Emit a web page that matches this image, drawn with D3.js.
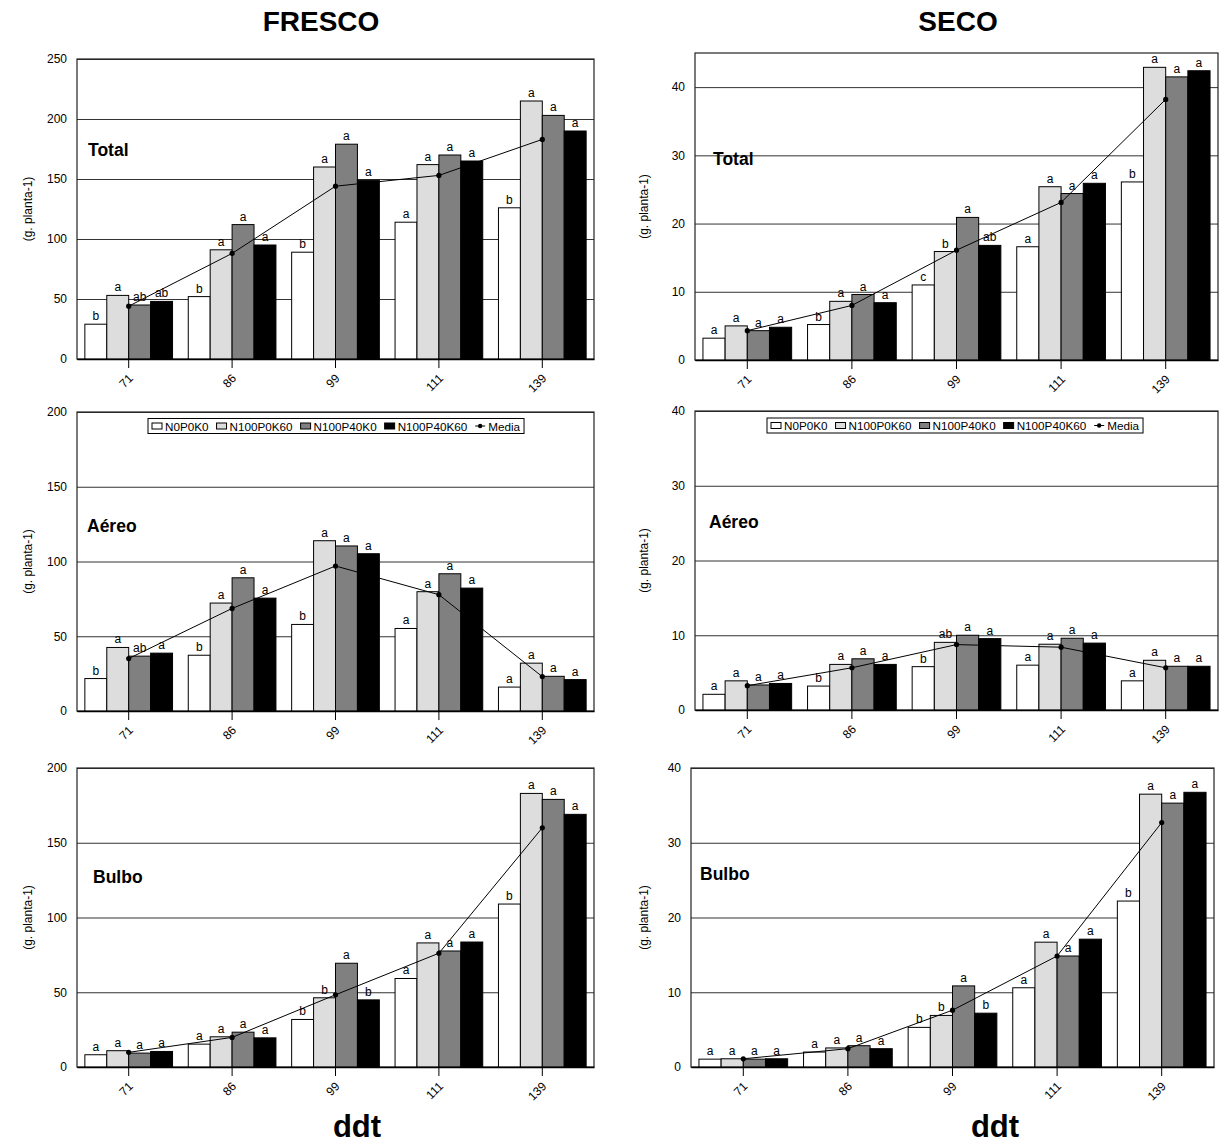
<!DOCTYPE html>
<html><head><meta charset="utf-8">
<script src="https://cdn.jsdelivr.net/npm/d3@7"></script>
<style>
body{margin:0;background:#fff}
svg{display:block}
text{font-family:Arial,"Liberation Sans",Helvetica,sans-serif;fill:#000}
</style>
</head><body>
<svg id="chart" width="1223" height="1147"></svg>
<script>
// ---------- DATA ----------
const categories = ["71", "86", "99", "111", "139"];
const treatments = ["N0P0K0", "N100P0K60", "N100P40K0", "N100P40K60"];
const meanName = "Media";
const columnTitles = ["FRESCO", "SECO"];
const xTitle = "ddt";
const yTitle = "(g. planta-1)";

const frescoTicks250 = [0, 50, 100, 150, 200, 250];
const frescoTicks200 = [0, 50, 100, 150, 200];
const secoTicks = [0, 10, 20, 30, 40];

// FRESCO - Total
const frescoTotal_N0P0K0     = [29, 52, 89, 114, 126];
const frescoTotal_N100P0K60  = [53, 91, 160, 162, 215];
const frescoTotal_N100P40K0  = [45, 112, 179, 170, 203];
const frescoTotal_N100P40K60 = [48, 95, 149, 165, 190];
const frescoTotal_Media      = [44, 88, 144, 153, 183];
const frescoTotal_letters = [["b","a","ab","ab"],["b","a","a","a"],["b","a","a","a"],["a","a","a","a"],["b","a","a","a"]];

// SECO - Total
const secoTotal_N0P0K0     = [3.2, 5.2, 11.0, 16.6, 26.1];
const secoTotal_N100P0K60  = [5.0, 8.6, 15.9, 25.4, 42.9];
const secoTotal_N100P40K0  = [4.3, 9.6, 20.9, 24.4, 41.5];
const secoTotal_N100P40K60 = [4.8, 8.4, 16.8, 25.9, 42.4];
const secoTotal_Media      = [4.3, 8.0, 16.1, 23.1, 38.2];
const secoTotal_letters = [["a","a","a","a"],["b","a","a","a"],["c","b","a","ab"],["a","a","a","a"],["b","a","a","a"]];

// FRESCO - Aéreo
const frescoAereo_N0P0K0     = [21.7, 37.3, 57.9, 55.2, 16];
const frescoAereo_N100P0K60  = [42.5, 72.2, 113.9, 79.8, 32];
const frescoAereo_N100P40K0  = [36.7, 89.1, 110.4, 91.8, 23.2];
const frescoAereo_N100P40K60 = [38.7, 75.5, 105.2, 82.2, 21];
const frescoAereo_Media      = [35.1, 68.6, 97.0, 77.8, 23];
const frescoAereo_letters = [["b","a","ab","a"],["b","a","a","a"],["b","a","a","a"],["a","a","a","a"],["a","a","a","a"]];

// SECO - Aéreo
const secoAereo_N0P0K0     = [2.1, 3.2, 5.8, 6.0, 3.9];
const secoAereo_N100P0K60  = [3.9, 6.1, 9.05, 8.8, 6.65];
const secoAereo_N100P40K0  = [3.35, 6.85, 10.0, 9.6, 5.85];
const secoAereo_N100P40K60 = [3.55, 6.1, 9.55, 8.95, 5.85];
const secoAereo_Media      = [3.25, 5.65, 8.75, 8.4, 5.65];
const secoAereo_letters = [["a","a","a","a"],["b","a","a","a"],["b","ab","a","a"],["a","a","a","a"],["a","a","a","a"]];

// FRESCO - Bulbo
const frescoBulbo_N0P0K0     = [8.2, 15.3, 31.8, 59.2, 109];
const frescoBulbo_N100P0K60  = [10.9, 20.2, 46.3, 83.0, 183];
const frescoBulbo_N100P40K0  = [9.3, 23.3, 69.4, 77.6, 179];
const frescoBulbo_N100P40K60 = [10.4, 19.5, 44.9, 83.6, 169];
const frescoBulbo_Media      = [9.8, 19.8, 48.3, 76.1, 160];
const frescoBulbo_letters = [["a","a","a","a"],["a","a","a","a"],["b","b","a","b"],["a","a","a","a"],["b","a","a","a"]];

// SECO - Bulbo
const secoBulbo_N0P0K0     = [1.05, 2.0, 5.3, 10.6, 22.2];
const secoBulbo_N100P0K60  = [1.1, 2.55, 6.9, 16.7, 36.5];
const secoBulbo_N100P40K0  = [1.05, 2.85, 10.85, 14.85, 35.3];
const secoBulbo_N100P40K60 = [1.1, 2.45, 7.2, 17.1, 36.75];
const secoBulbo_Media      = [1.1, 2.45, 7.6, 14.85, 32.7];
const secoBulbo_letters = [["a","a","a","a"],["a","a","a","a"],["b","b","a","b"],["a","a","a","a"],["b","a","a","a"]];

const panelLabels = ["Total", "Aéreo", "Bulbo"];

// ---------- LAYOUT ----------
const fills = ["#ffffff", "#dddddd", "#808080", "#000000"];
const FONT = 'Arial,"Liberation Sans",Helvetica,sans-serif';

const panels = [
  {left:77, right:594, top:59, bottom:359, max:250, ticks:frescoTicks250, label:panelLabels[0], lx:88, ly:156, yt:32,
   series:[frescoTotal_N0P0K0, frescoTotal_N100P0K60, frescoTotal_N100P40K0, frescoTotal_N100P40K60], mean:frescoTotal_Media, letters:frescoTotal_letters},
  {left:695, right:1218, top:53, bottom:360, max:45, ticks:secoTicks, label:panelLabels[0], lx:713, ly:165, yt:648,
   series:[secoTotal_N0P0K0, secoTotal_N100P0K60, secoTotal_N100P40K0, secoTotal_N100P40K60], mean:secoTotal_Media, letters:secoTotal_letters},
  {left:77, right:594, top:412, bottom:711, max:200, ticks:frescoTicks200, label:panelLabels[1], lx:87, ly:532, yt:32,
   series:[frescoAereo_N0P0K0, frescoAereo_N100P0K60, frescoAereo_N100P40K0, frescoAereo_N100P40K60], mean:frescoAereo_Media, letters:frescoAereo_letters,
   legend:{x:148, y:418.5}},
  {left:695, right:1218, top:411, bottom:710, max:40, ticks:secoTicks, label:panelLabels[1], lx:709, ly:528, yt:648,
   series:[secoAereo_N0P0K0, secoAereo_N100P0K60, secoAereo_N100P40K0, secoAereo_N100P40K60], mean:secoAereo_Media, letters:secoAereo_letters,
   legend:{x:767, y:418}},
  {left:77, right:594, top:768, bottom:1067, max:200, ticks:frescoTicks200, label:panelLabels[2], lx:93, ly:883, yt:32,
   series:[frescoBulbo_N0P0K0, frescoBulbo_N100P0K60, frescoBulbo_N100P40K0, frescoBulbo_N100P40K60], mean:frescoBulbo_Media, letters:frescoBulbo_letters},
  {left:691, right:1214, top:768, bottom:1067, max:40, ticks:secoTicks, label:panelLabels[2], lx:700, ly:880, yt:648,
   series:[secoBulbo_N0P0K0, secoBulbo_N100P0K60, secoBulbo_N100P40K0, secoBulbo_N100P40K60], mean:secoBulbo_Media, letters:secoBulbo_letters}
];

const svg = d3.select("#chart");

panels.forEach(p => {
  const x = d3.scaleBand().domain(categories).range([p.left, p.right]).paddingInner(0).paddingOuter(0);
  const y = d3.scaleLinear().domain([0, p.max]).range([p.bottom, p.top]);
  const W = p.right - p.left;
  const g = svg.append("g");

  // gridlines
  g.append("g")
    .attr("transform", `translate(${p.left},0)`)
    .call(d3.axisLeft(y).tickValues(p.ticks).tickSize(-W).tickFormat(""))
    .call(s => s.select(".domain").remove())
    .call(s => s.selectAll("line").attr("stroke", "#333").attr("stroke-width", 1));

  // frame
  g.append("rect").attr("x", p.left).attr("y", p.top).attr("width", W).attr("height", p.bottom - p.top)
    .attr("fill", "none").attr("stroke", "#222").attr("stroke-width", 1.2);

  // y tick labels
  g.append("g")
    .attr("transform", `translate(${p.left},0)`)
    .call(d3.axisLeft(y).tickValues(p.ticks).tickSize(0).tickPadding(10).tickFormat(d3.format("d")))
    .call(s => s.select(".domain").remove())
    .call(s => s.selectAll("text").attr("font-size", 12).attr("font-family", FONT).attr("fill", "#000"));

  // y title
  g.append("text")
    .attr("transform", `translate(${p.yt},${(p.top + p.bottom) / 2}) rotate(-90)`)
    .attr("text-anchor", "middle").attr("font-size", 12).text(yTitle);

  // bars
  const bw = x.step() * 0.212;
  categories.forEach((c, ci) => {
    const cx = x(c) + x.bandwidth() / 2;
    p.series.forEach((arr, si) => {
      const bx = cx - 2 * bw + si * bw;
      g.append("rect")
        .attr("x", bx).attr("y", y(arr[ci]))
        .attr("width", bw).attr("height", y(0) - y(arr[ci]))
        .attr("fill", fills[si]).attr("stroke", "#000").attr("stroke-width", 1);
      g.append("text")
        .attr("x", bx + bw / 2).attr("y", y(arr[ci]) - 4)
        .attr("text-anchor", "middle").attr("font-size", 12)
        .text(p.letters[ci][si]);
    });
  });

  // x axis
  const xa = g.append("g")
    .attr("transform", `translate(0,${p.bottom})`)
    .call(d3.axisBottom(x).tickSize(9).tickSizeOuter(0));
  xa.select(".domain").attr("stroke", "#000").attr("stroke-width", 1.6);
  xa.selectAll("line").attr("stroke", "#000").attr("stroke-width", 1);
  xa.selectAll("text")
    .attr("font-size", 12).attr("font-family", FONT).attr("fill", "#000")
    .attr("x", 0).attr("y", 0).attr("dy", "0.35em")
    .attr("text-anchor", "end")
    .attr("transform", "translate(2,17) rotate(-45)");

  // mean line
  const line = d3.line().x((d, i) => x(categories[i]) + x.bandwidth() / 2).y(d => y(d));
  g.append("path").datum(p.mean).attr("d", line).attr("fill", "none").attr("stroke", "#000").attr("stroke-width", 1);
  g.selectAll(null).data(p.mean).enter().append("circle")
    .attr("cx", (d, i) => x(categories[i]) + x.bandwidth() / 2)
    .attr("cy", d => y(d)).attr("r", 2.6).attr("fill", "#000");

  // panel label
  g.append("text").attr("x", p.lx).attr("y", p.ly)
    .attr("font-size", 17.5).attr("font-weight", "bold").text(p.label);

  // legend
  if (p.legend) {
    const lg = g.append("g").attr("transform", `translate(${p.legend.x},${p.legend.y})`);
    const box = lg.append("rect").attr("y", 0).attr("height", 15).attr("fill", "#fff")
      .attr("stroke", "#000").attr("stroke-width", 1);
    let cur = 4;
    const names = treatments.concat([meanName]);
    names.forEach((n, i) => {
      if (i < 4) {
        lg.append("rect").attr("x", cur).attr("y", 4.5).attr("width", 10).attr("height", 6)
          .attr("fill", fills[i]).attr("stroke", "#000").attr("stroke-width", 1);
      } else {
        lg.append("line").attr("x1", cur).attr("x2", cur + 10).attr("y1", 7.5).attr("y2", 7.5)
          .attr("stroke", "#000").attr("stroke-width", 1);
        lg.append("circle").attr("cx", cur + 5).attr("cy", 7.5).attr("r", 2.2).attr("fill", "#000");
      }
      cur += 13;
      const t = lg.append("text").attr("x", cur).attr("y", 12).attr("font-size", 11.7).text(n);
      cur += t.node().getComputedTextLength() + 8;
    });
    box.attr("width", cur - 4);
  }
});

// column titles and x titles
svg.append("text").attr("x", 321).attr("y", 31).attr("text-anchor", "middle")
  .attr("font-size", 28).attr("font-weight", "bold").text(columnTitles[0]);
svg.append("text").attr("x", 958).attr("y", 31).attr("text-anchor", "middle")
  .attr("font-size", 28).attr("font-weight", "bold").text(columnTitles[1]);
svg.append("text").attr("x", 357).attr("y", 1137).attr("text-anchor", "middle")
  .attr("font-size", 31).attr("font-weight", "bold").text(xTitle);
svg.append("text").attr("x", 995).attr("y", 1137).attr("text-anchor", "middle")
  .attr("font-size", 31).attr("font-weight", "bold").text(xTitle);
</script>
</body></html>
